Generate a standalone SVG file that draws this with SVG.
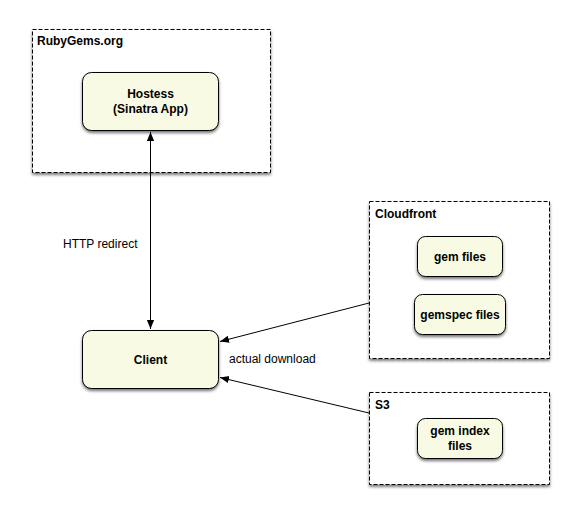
<svg xmlns="http://www.w3.org/2000/svg" width="583" height="522" viewBox="0 0 583 522">
<style>
.cont{fill:#fff;stroke:#000;stroke-width:1;stroke-dasharray:4,2;filter:url(#sh)}
.node{fill:#f8fae3;stroke:#000;stroke-width:1;filter:url(#sh)}
.t{font-family:"Liberation Sans",Arial,sans-serif;font-size:12px;font-weight:bold;fill:#000}
.c{text-anchor:middle}
.lbl{font-family:"Liberation Sans",Arial,sans-serif;font-size:12px;fill:#000}
.edge{stroke:#000;stroke-width:1;fill:none}
</style>
<defs>
<filter id="sh" x="-10%" y="-10%" width="120%" height="130%">
<feDropShadow dx="0" dy="2" stdDeviation="1.8" flood-color="#000" flood-opacity="0.55"/>
</filter>
<marker id="ah" viewBox="0 0 10 10" refX="10" refY="5" markerWidth="9" markerHeight="9" markerUnits="userSpaceOnUse" orient="auto-start-reverse">
<path d="M0,1 L10,5 L0,9 Z" fill="#000"/>
</marker>
</defs>
<rect width="583" height="522" fill="#fff"/>
<g id="rubygems">
<rect class="cont" x="32.5" y="29.5" width="238" height="143"/>
<text class="t" x="37" y="45">RubyGems.org</text>
</g>
<g id="cloudfront">
<rect class="cont" x="369.5" y="201.5" width="180" height="157"/>
<text class="t" x="375" y="218">Cloudfront</text>
</g>
<g id="s3">
<rect class="cont" x="369.5" y="392.5" width="180" height="92"/>
<text class="t" x="375" y="409">S3</text>
</g>
<g id="hostess">
<rect class="node" x="82.5" y="72.5" width="136" height="58" rx="9"/>
<text class="t c" x="150.5" y="98">Hostess</text>
<text class="t c" x="150.5" y="113">(Sinatra App)</text>
</g>
<g id="client">
<rect class="node" x="82.5" y="330.5" width="136" height="58" rx="9"/>
<text class="t c" x="150.5" y="364">Client</text>
</g>
<g id="gemfiles">
<rect class="node" x="417.5" y="236.5" width="85" height="40" rx="8"/>
<text class="t c" x="460" y="261">gem files</text>
</g>
<g id="gemspecfiles">
<rect class="node" x="414.5" y="294.5" width="91" height="40" rx="8"/>
<text class="t c" x="460" y="319">gemspec files</text>
</g>
<g id="gemindexfiles">
<rect class="node" x="417.5" y="418.5" width="85" height="40" rx="8"/>
<text class="t c" x="460" y="435">gem index</text>
<text class="t c" x="460" y="450">files</text>
</g>
<g id="connectors">
<line class="edge" x1="150.5" y1="132" x2="150.5" y2="329" marker-start="url(#ah)" marker-end="url(#ah)"/>
<line class="edge" x1="369" y1="303" x2="220" y2="341.5" marker-end="url(#ah)"/>
<line class="edge" x1="369" y1="413" x2="220" y2="377.5" marker-end="url(#ah)"/>
<text class="lbl" x="63" y="248">HTTP redirect</text>
<text class="lbl" x="229" y="363">actual download</text>
</g>
</svg>
